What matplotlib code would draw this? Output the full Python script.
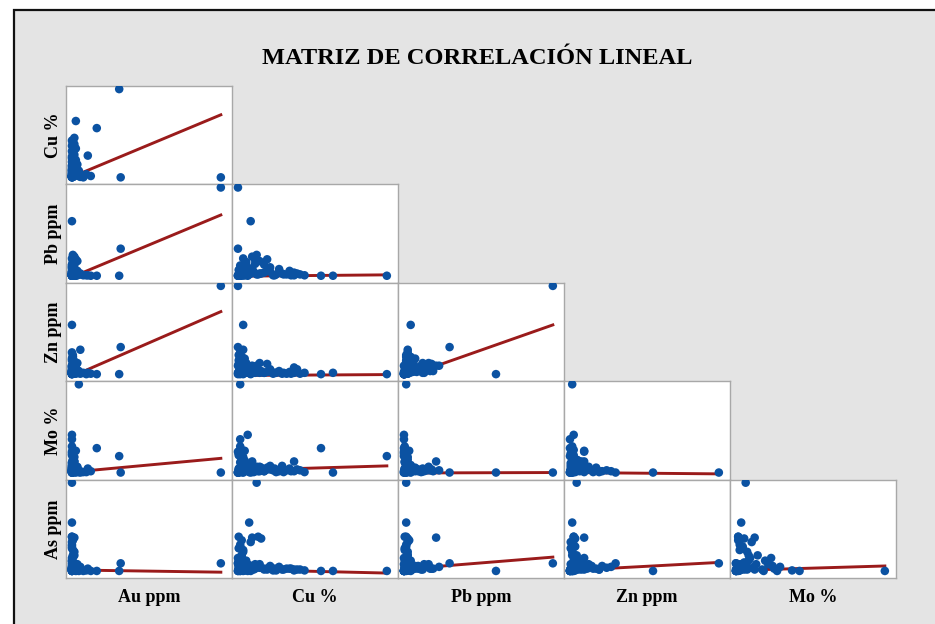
import matplotlib
matplotlib.use("Agg")
import matplotlib.pyplot as plt
from matplotlib.patches import Rectangle
import numpy as np

# muestras de geoquimica (una fila por muestra)
au_ppm = [1.00, 0.32, 0.33, 0.03, 0.17, 0.05, 0.004, 0.004, 0.004, 0.004, 0.004, 0.004, 0.06,
          0.02, 0.11, 0.02, 0.01, 0.02, 0.04, 0.03, 0.03, 0.01, 0.01, 0.004, 0.01, 0.02,
          0.004, 0.01, 0.02, 0.004, 0.01, 0.02, 0.004, 0.01, 0.03, 0.02, 0.01, 0.03,
          0.004, 0.01, 0.004, 0.02, 0.01, 0.004, 0.01, 0.004, 0.02,
          0.004, 0.01, 0.004, 0.02, 0.004, 0.004, 0.01, 0.004, 0.02, 0.004, 0.01,
          0.004, 0.01, 0.02, 0.03, 0.13, 0.10, 0.04, 0.06, 0.08, 0.004,
          0.004, 0.01, 0.004, 0.01, 0.004, 0.02, 0.004, 0.01, 0.004, 0.01, 0.004, 0.02,
          0.004, 0.01, 0.004, 0.03, 0.04, 0.05, 0.004, 0.01, 0.004, 0.01, 0.02, 0.004]
cu_pct = [0.01, 2.00, 0.01, 1.28, 1.12, 0.04, 0.26, 0.18, 0.08, 0.16, 0.14, 0.04, 0.08,
          0.20, 0.50, 0.76, 0.26, 0.12, 0.30, 0.40, 0.10, 0.06, 0.32, 0.02, 0.06, 0.08,
          0.84, 0.76, 0.70, 0.60, 0.56, 0.52, 0.44, 0.40, 0.36, 0.90, 0.80, 0.66,
          0.08, 0.12, 0.04, 0.20, 0.24, 0.04, 0.06, 0.02, 0.10,
          0.04, 0.06, 0.02, 0.08, 0.04, 0.04, 0.06, 0.02, 0.08, 0.28, 0.06,
          0.01, 0.02, 0.04, 0.10, 0.04, 0.08, 0.16, 0.02, 0.01, 0.12,
          0.72, 0.62, 0.48, 0.30, 0.22, 0.14, 0.06, 0.02, 0.04, 0.10, 0.02, 0.06,
          0.04, 0.08, 0.18, 0.12, 0.06, 0.16, 0.36, 0.24, 0.10, 0.02, 0.44, 0.01]
pb_ppm = [1000, 5, 310, 5, 5, 20, 20, 620, 50, 20, 5, 5, 30,
          220, 10, 10, 240, 130, 170, 190, 40, 30, 30, 10, 20, 20,
          20, 40, 60, 30, 80, 20, 100, 60, 40, 10, 30, 20,
          200, 160, 120, 90, 140, 30, 50, 20, 40,
          10, 20, 5, 30, 10, 20, 40, 10, 30, 20, 20,
          5, 10, 20, 10, 5, 10, 60, 20, 10, 50,
          10, 20, 10, 30, 50, 80, 100, 70, 40, 20, 10, 30,
          20, 10, 30, 20, 10, 30, 130, 180, 80, 20, 50, 5]
zn_ppm = [2000, 10, 620, 40, 10, 40, 100, 10, 1120, 40, 60, 10, 560,
          200, 40, 160, 200, 260, 260, 240, 200, 100, 80, 60, 400, 300,
          20, 40, 60, 20, 80, 40, 100, 60, 40, 40, 120, 20,
          80, 120, 200, 60, 40, 500, 400, 320, 240,
          40, 60, 20, 40, 80, 40, 60, 20, 40, 60, 80,
          10, 20, 60, 40, 20, 10, 100, 20, 40, 160,
          20, 40, 20, 40, 60, 100, 140, 240, 180, 120, 60, 40,
          80, 40, 20, 60, 40, 80, 40, 80, 360, 440, 120, 200]
mo_pct = [0.0005, 0.019, 0.0005, 0.0005, 0.028, 0.100, 0.007, 0.0005, 0.0005, 0.004, 0.043, 0.038, 0.002,
          0.013, 0.005, 0.013, 0.003, 0.005, 0.007, 0.004, 0.025, 0.015, 0.006, 0.002, 0.001, 0.003,
          0.003, 0.002, 0.005, 0.008, 0.002, 0.001, 0.004, 0.006, 0.002, 0.001, 0.004, 0.003,
          0.002, 0.003, 0.001, 0.004, 0.002, 0.003, 0.002, 0.001, 0.004,
          0.030, 0.026, 0.022, 0.018, 0.012, 0.003, 0.002, 0.005, 0.008, 0.002, 0.010,
          0.0005, 0.001, 0.002, 0.003, 0.002, 0.001, 0.006, 0.0005, 0.001, 0.009,
          0.002, 0.001, 0.003, 0.002, 0.001, 0.003, 0.002, 0.004, 0.006, 0.014, 0.020, 0.009,
          0.005, 0.003, 0.011, 0.004, 0.002, 0.001, 0.002, 0.003, 0.006, 0.002, 0.008, 0.024]
as_ppm = [45, 2, 45, 2, 2, 2, 500, 2, 2, 275, 2, 5, 25,
          190, 15, 10, 25, 20, 40, 15, 30, 90, 185, 195, 10, 30,
          10, 5, 15, 10, 25, 5, 30, 10, 15, 5, 10, 15,
          15, 25, 10, 20, 40, 20, 10, 15, 25,
          25, 15, 40, 10, 20, 150, 175, 130, 110, 195, 75,
          2, 5, 10, 5, 2, 5, 35, 10, 2, 60,
          15, 10, 5, 20, 10, 30, 15, 25, 50, 40, 60, 90,
          140, 120, 165, 40, 20, 5, 10, 15, 15, 30, 25, 75]

datos = {"Au ppm": au_ppm, "Cu %": cu_pct, "Pb ppm": pb_ppm,
         "Zn ppm": zn_ppm, "Mo %": mo_pct, "As ppm": as_ppm}

filas = ["Cu %", "Pb ppm", "Zn ppm", "Mo %", "As ppm"]
columnas = ["Au ppm", "Cu %", "Pb ppm", "Zn ppm", "Mo %"]

# recta de tendencia: valor en el minimo y en el maximo de x
tendencia = {
    ("Cu %", "Au ppm"): (0.02, 1.42),
    ("Pb ppm", "Au ppm"): (-10, 690),
    ("Pb ppm", "Cu %"): (0, 15),
    ("Zn ppm", "Au ppm"): (-40, 1420),
    ("Zn ppm", "Cu %"): (-20, 0),
    ("Zn ppm", "Pb ppm"): (-60, 1120),
    ("Mo %", "Au ppm"): (0.001, 0.0165),
    ("Mo %", "Cu %"): (0.003, 0.008),
    ("Mo %", "Pb ppm"): (0.0, 0.0005),
    ("Mo %", "Zn ppm"): (0.0005, -0.001),
    ("As ppm", "Au ppm"): (7.5, -5),
    ("As ppm", "Cu %"): (10, -10),
    ("As ppm", "Pb ppm"): (12, 80),
    ("As ppm", "Zn ppm"): (5, 50),
    ("As ppm", "Mo %"): (5, 30),
}

azul = "#0b52a2"
rojo = "#9a1b1b"
fuente = dict(family="Liberation Serif", fontweight="bold")

fig = plt.figure(figsize=(9.35, 6.24), dpi=100, facecolor="white")
fondo = Rectangle((14 / 935, -0.02), 1.0, 1 - 9.5 / 624 + 0.02, transform=fig.transFigure,
                  facecolor="#e4e4e4", edgecolor="#111111", linewidth=1.6, zorder=-5)
fig.patches.append(fondo)

gs = fig.add_gridspec(5, 5, left=66 / 935, right=896 / 935, top=1 - 86 / 624,
                      bottom=1 - 578 / 624, wspace=0, hspace=0)

for i, fy in enumerate(filas):
    for j, fx in enumerate(columnas):
        if j > i:
            continue
        ax = fig.add_subplot(gs[i, j])
        x = np.array(datos[fx])
        y = np.array(datos[fy])
        y0, y1 = tendencia[(fy, fx)]
        ax.plot([x.min(), x.max()], [y0, y1], color=rojo, lw=2.1, zorder=2)
        ax.scatter(x, y, s=38, color=azul, edgecolors="none", zorder=3)
        rx = x.max() - x.min()
        ry = y.max() - y.min()
        ax.set_xlim(x.min() - 0.04 * rx, x.max() + 0.075 * rx)
        ax.set_ylim(y.min() - 0.08 * ry, y.max() + 0.035 * ry)
        ax.set_xticks([])
        ax.set_yticks([])
        ax.set_facecolor("white")
        for s in ax.spines.values():
            s.set_color("#a8a8a8")
            s.set_linewidth(1.0)
        if j == 0:
            ax.set_ylabel(fy, fontsize=13, labelpad=3, **fuente)
        if i == len(filas) - 1:
            ax.set_xlabel(fx, fontsize=13, labelpad=8, **fuente)

fig.text(477 / 935, 1 - 58 / 624, "MATRIZ DE CORRELACIÓN LINEAL", ha="center", va="center",
         fontsize=17.6, **fuente)

fig.savefig("out.png", dpi=100)
